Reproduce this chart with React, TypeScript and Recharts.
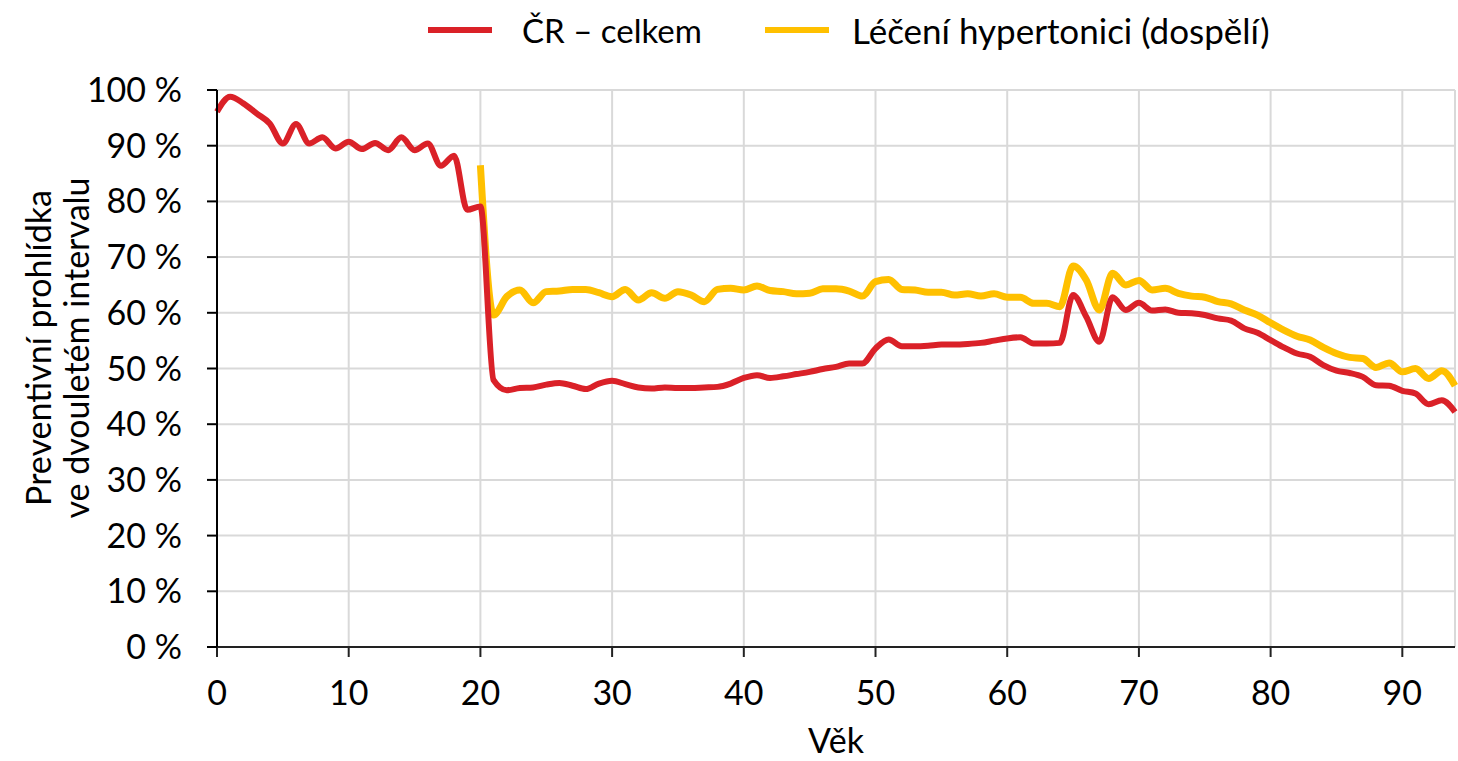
import { LineChart, Line, XAxis, YAxis, CartesianGrid } from 'recharts';

const ages = Array.from({ length: 95 }, (_, i) => i);

const celkem = [
  96.1, 98.8, 97.6, 95.8, 94.0, 90.4, 93.9, 90.4, 91.5, 89.5,
  90.7, 89.4, 90.5, 89.2, 91.5, 89.2, 90.4, 86.4, 88.2, 78.5,
  79.1, 47.9, 46.1, 46.5, 46.6, 47.1, 47.4, 46.9, 46.3, 47.3,
  47.8, 47.2, 46.6, 46.4, 46.6, 46.5, 46.5, 46.6, 46.7, 47.3,
  48.3, 48.8, 48.3, 48.6, 49.0, 49.4, 49.9, 50.3, 50.9, 50.9,
  53.6, 55.2, 54.0, 54.0, 54.1, 54.3, 54.3, 54.4, 54.6, 55.0,
  55.4, 55.6, 54.5, 54.5, 54.6, 63.2, 59.3, 54.8, 62.8, 60.5,
  61.8, 60.4, 60.6, 60.0, 59.9, 59.6, 59.0, 58.6, 57.2, 56.4,
  55.1, 53.8, 52.7, 52.1, 50.6, 49.6, 49.2, 48.5, 47.0, 46.9,
  46.0, 45.5, 43.6, 44.3, 42.2,
];

// starts at age 20
const hypertonici = [
  86.5, 59.6, 62.9, 64.1, 61.8, 63.8, 63.9, 64.2, 64.2, 63.6,
  62.9, 64.2, 62.3, 63.6, 62.6, 63.8, 63.2, 62.0, 64.2, 64.4,
  64.1, 64.8, 64.0, 63.8, 63.4, 63.5, 64.3, 64.3, 63.9, 63.0,
  65.6, 66.0, 64.2, 64.1, 63.7, 63.7, 63.2, 63.4, 63.0, 63.4,
  62.8, 62.8, 61.7, 61.7, 61.1, 68.4, 65.9, 60.5, 67.1, 65.0,
  65.8, 64.1, 64.4, 63.5, 63.0, 62.8, 62.0, 61.6, 60.5, 59.6,
  58.2, 56.9, 55.8, 55.1, 53.8, 52.7, 52.0, 51.8, 50.2, 51.0,
  49.4, 50.0, 48.2, 49.6, 46.9,
];
const hypStart = 20;

const xTicks = [0, 10, 20, 30, 40, 50, 60, 70, 80, 90];
const yTicks = [0, 10, 20, 30, 40, 50, 60, 70, 80, 90, 100];

const data = ages.map((age, i) => ({
  age,
  celkem: celkem[i],
  hyp: i >= hypStart ? hypertonici[i - hypStart] : null,
}));

const RED = '#da2128';
const YELLOW = '#ffc000';
const FONT = 'Lato, sans-serif';

function YTitle() {
  return (
    <g fontFamily={FONT} fontSize={34} fill="#000">
      <text x={37} y={348} textAnchor="middle" dominantBaseline="central" transform="rotate(-90 37 348)">
        Preventivní prohlídka
      </text>
      <text x={75} y={348} textAnchor="middle" dominantBaseline="central" transform="rotate(-90 75 348)">
        ve dvouletém intervalu
      </text>
    </g>
  );
}

export default function App() {
  return (
    <div style={{ position: 'absolute', left: 0, top: 0, width: 1458, height: 761, fontFamily: FONT }}>
      <div style={{ position: 'absolute', left: 428, top: 27, width: 64, height: 6, background: RED }} />
      <span style={{ position: 'absolute', left: 522, top: 10, fontSize: 33, lineHeight: '40px', whiteSpace: 'nowrap' }}>
        ČR – celkem
      </span>
      <div style={{ position: 'absolute', left: 765, top: 27, width: 64, height: 6, background: YELLOW }} />
      <span style={{ position: 'absolute', left: 852, top: 10, fontSize: 35, lineHeight: '40px', whiteSpace: 'nowrap' }}>
        Léčení hypertonici (dospělí)
      </span>
      <LineChart width={1458} height={761} data={data} margin={{ top: 90, right: 3, bottom: 0, left: 0 }}>
        <CartesianGrid stroke="#d9d9d9" strokeWidth={2} />
        <XAxis
          dataKey="age"
          type="number"
          domain={[0, 94]}
          ticks={xTicks}
          interval={0}
          stroke="#222"
          strokeWidth={2}
          tickSize={10}
          tickMargin={24}
          tick={{ fill: '#000', fontSize: 34, fontFamily: FONT }}
          height={114}
          label={{ value: 'Věk', position: 'insideBottom', offset: 8, fill: '#000', fontSize: 34, fontFamily: FONT }}
        />
        <YAxis
          type="number"
          domain={[0, 100]}
          ticks={yTicks}
          interval={0}
          width={217}
          stroke="#000"
          strokeWidth={2}
          tickSize={10}
          tickMargin={25}
          tickFormatter={(v) => `${v} %`}
          tick={{ fill: '#000', fontSize: 34, fontFamily: FONT }}
          label={{ content: () => <YTitle /> }}
        />
        <Line
          type="monotone"
          dataKey="hyp"
          stroke={YELLOW}
          strokeWidth={7}
          dot={false}
          isAnimationActive={false}
        />
        <Line
          type="monotone"
          dataKey="celkem"
          stroke={RED}
          strokeWidth={6}
          dot={false}
          isAnimationActive={false}
        />
      </LineChart>
    </div>
  );
}
